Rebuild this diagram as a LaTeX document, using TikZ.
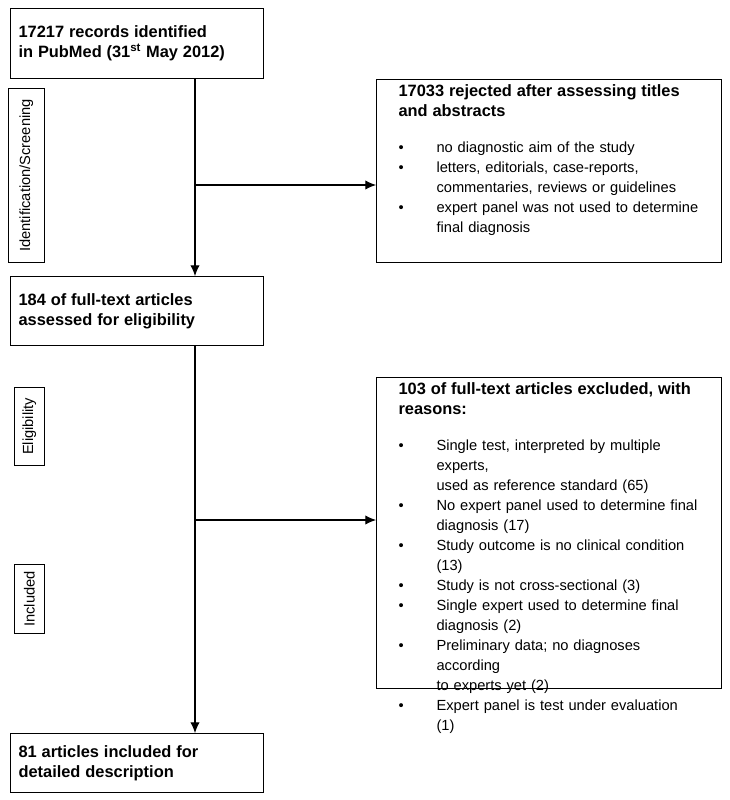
\documentclass[tikz,border=0pt]{standalone}
\usepackage{fontspec}
\setmainfont{Liberation Sans}
\usetikzlibrary{arrows.meta,positioning}
\newcommand{\itm}[1]{\par\hangindent=28.5pt\hangafter=1\noindent\makebox[28.5pt][l]{\textbullet}#1}
\newcommand{\hd}[1]{{\fontsize{12.3}{15}\selectfont\bfseries #1}}
\tikzset{
  box/.style={draw, thick, anchor=north west, inner xsep=6pt, inner ysep=4pt, align=left,
    font=\fontsize{11}{15}\selectfont},
  side/.style={draw, anchor=north west, rotate=90, font=\fontsize{11}{14}\selectfont},
  flow/.style={thick, -{Latex[length=8pt,width=7pt]}}
}
\begin{document}
\begin{tikzpicture}[x=0.75pt,y=-0.75pt]
        \useasboundingbox (0,0) rectangle (730,800);

        \node[box, text width=178pt, minimum height=52.5pt] (rec) at (10,8)
          {\hd{17217 records identified}\\\hd{in PubMed (31\textsuperscript{st} May 2012)}};
        \node[box, inner xsep=16.5pt, text width=226pt, minimum height=137pt] (rej) at (376,79)
          {\parbox[c][129pt][t]{226pt}{\raggedright\hyphenpenalty=10000
           \hd{17033 rejected after assessing titles}\\\hd{and abstracts}\par\vspace{12pt}
           \itm{no diagnostic aim of the study}
           \itm{letters, editorials, case-reports,\newline commentaries, reviews or guidelines}
           \itm{expert panel was not used to determine\newline final diagnosis}}};
        \node[box, text width=178pt, minimum height=52pt] (full) at (10,276)
          {\hd{184 of full-text articles}\\\hd{assessed for eligibility}};
        \node[box, inner xsep=16.5pt, text width=226pt, minimum height=233pt] (exc) at (376,377)
          {\parbox[c][225pt][t]{226pt}{\raggedright\hyphenpenalty=10000
           \hd{103 of full-text articles excluded, with}\\\hd{reasons:}\par\vspace{12pt}
           \itm{Single test, interpreted by multiple experts,\newline used as reference standard (65)}
           \itm{No expert panel used to determine final\newline diagnosis (17)}
           \itm{Study outcome is no clinical condition (13)}
           \itm{Study is not cross-sectional (3)}
           \itm{Single expert used to determine final\newline diagnosis (2)}
           \itm{Preliminary data; no diagnoses according\newline to experts yet (2)}
           \itm{Expert panel is test under evaluation (1)}}};
        \node[box, text width=178pt, minimum height=44pt] (inc) at (10,733)
          {\hd{81 articles included for}\\\hd{detailed description}};

        % phase labels
        \node[side, minimum width=131pt, minimum height=27pt] (idscr) at (8,263) {Identification/Screening};
        \node[side, minimum width=59pt, minimum height=22.5pt] (elig) at (14,466) {Eligibility};
        \node[side, minimum width=52pt, minimum height=22.5pt] (incl) at (14,634) {Included};

        % flow
        \coordinate (main) at (195,0);
        \coordinate (j1) at (195,185);
        \coordinate (j2) at (195,520);
        \draw[flow] (rec.south -| main) -- (full.north -| main);
        \draw[flow] (full.south -| main) -- (inc.north -| main);
        \draw[flow] (j1) -- (j1 -| rej.west);
        \draw[flow] (j2) -- (j2 -| exc.west);
\end{tikzpicture}
\end{document}
